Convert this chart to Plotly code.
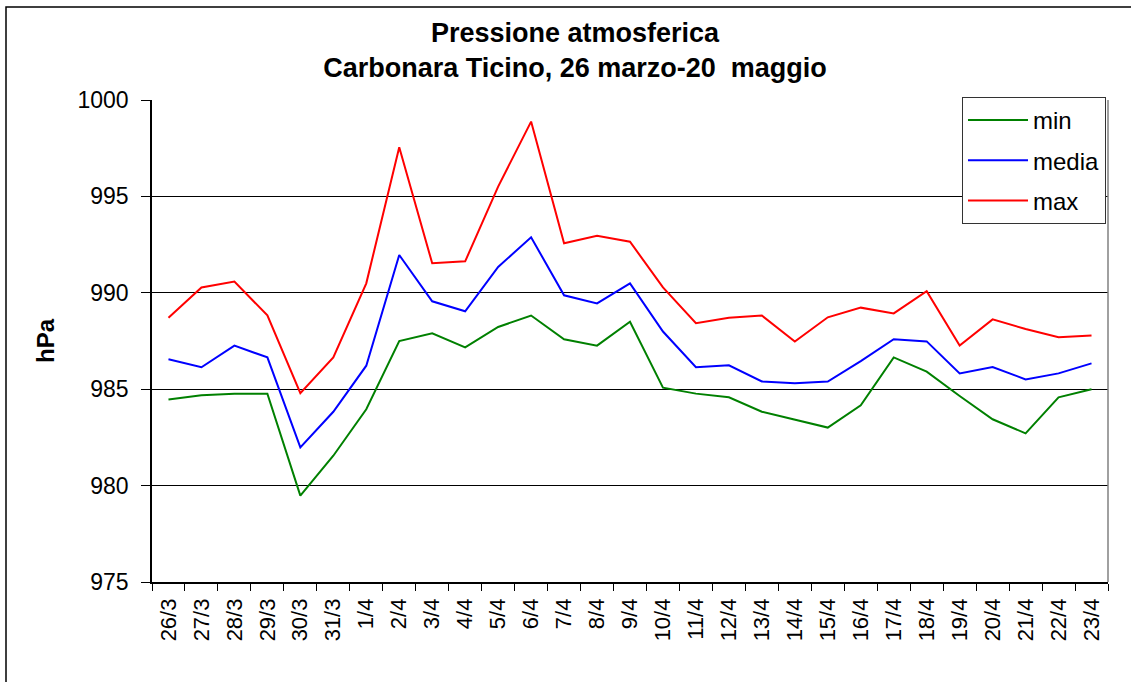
import plotly.graph_objects as go

categories = ["26/3", "27/3", "28/3", "29/3", "30/3", "31/3", "1/4", "2/4", "3/4", "4/4",
              "5/4", "6/4", "7/4", "8/4", "9/4", "10/4", "11/4", "12/4", "13/4", "14/4",
              "15/4", "16/4", "17/4", "18/4", "19/4", "20/4", "21/4", "22/4", "23/4"]

p_min = [984.46, 984.68, 984.77, 984.77, 979.48, 981.55, 983.96, 987.5, 987.9, 987.17,
         988.23, 988.82, 987.59, 987.26, 988.5, 985.08, 984.77, 984.58, 983.83, 983.4,
         983.01, 984.16, 986.65, 985.91, 984.65, 983.44, 982.71, 984.58, 985.0]

p_media = [986.55, 986.14, 987.26, 986.65, 981.98, 983.83, 986.22, 991.96, 989.56, 989.04,
           991.34, 992.88, 989.87, 989.45, 990.49, 987.99, 986.14, 986.24, 985.4, 985.31,
           985.4, 986.46, 987.59, 987.48, 985.82, 986.15, 985.51, 985.82, 986.34]

p_max = [988.71, 990.28, 990.58, 988.83, 984.79, 986.65, 990.49, 997.55, 991.53, 991.63,
         995.51, 998.88, 992.57, 992.96, 992.65, 990.28, 988.42, 988.71, 988.82, 987.47,
         988.73, 989.23, 988.93, 990.08, 987.26, 988.62, 988.12, 987.69, 987.79]

y_ticks = [975, 980, 985, 990, 995, 1000]

series = [("min", p_min, "#008000"), ("media", p_media, "#0000FF"), ("max", p_max, "#FF0000")]

FONT = "Liberation Sans, Arial, sans-serif"

fig = go.Figure()
for name, vals, col in series:
    fig.add_trace(go.Scatter(x=categories, y=vals, name=name, mode="lines",
                             legendgroup=name,
                             line=dict(color=col, width=2)))

W, H = 1131, 682
L, R, T, B = 152, 1108, 100, 582

fig.update_layout(
    width=W, height=H,
    margin=dict(l=L, r=W - R, t=T, b=H - B, pad=0),
    paper_bgcolor="white", plot_bgcolor="white",
    font=dict(family=FONT, color="black", size=23),
    title=dict(text="<b>Pressione atmosferica<br>Carbonara Ticino, 26 marzo-20\u00a0 maggio</b>",
               x=575 / W, xanchor="center", y=1 - 42 / H, yanchor="middle",
               font=dict(family=FONT, size=27, color="black")),
    showlegend=True,
    legend=dict(x=(962 - L) / (R - L), y=(B - 97) / (B - T), xanchor="left", yanchor="top",
                bgcolor="white", bordercolor="#333333", borderwidth=1,
                font=dict(family=FONT, size=24, color="black"),
                traceorder="grouped", tracegroupgap=6, itemwidth=60),
    xaxis=dict(type="category", range=[-0.5, len(categories) - 0.5],
               showline=True, linecolor="black", linewidth=1.5, mirror=False,
               ticks="outside", ticklen=7, tickcolor="black", tickwidth=1,
               tickson="boundaries", tickangle=-90, showgrid=False,
               tickfont=dict(family=FONT, size=22, color="black"),
               ticklabelstandoff=6),
    yaxis=dict(range=[975, 1000], tickvals=y_ticks,
               showline=True, linecolor="black", linewidth=1.5,
               ticks="outside", ticklen=9, tickcolor="black", tickwidth=1,
               showgrid=True, gridcolor="black", gridwidth=1, zeroline=False,
               tickfont=dict(family=FONT, size=23, color="black"),
               ticklabelstandoff=8,
               title=dict(text="<b>hPa</b>", font=dict(family=FONT, size=24, color="black"),
                          standoff=16)),
    shapes=[
        dict(type="line", xref="paper", yref="paper", x0=1, x1=1, y0=0, y1=1,
             line=dict(color="#808080", width=1.5), layer="above"),
        dict(type="rect", xref="paper", yref="paper",
             x0=(6 - L) / (R - L), x1=(1160 - L) / (R - L),
             y0=(B - 700) / (B - T), y1=(B - 7) / (B - T),
             line=dict(color="black", width=1.5), fillcolor="rgba(0,0,0,0)", layer="below"),
    ],
)

fig.write_html("out.html", config={"displayModeBar": False},
               post_script="document.body.style.margin='0';document.body.style.overflow='hidden';")
